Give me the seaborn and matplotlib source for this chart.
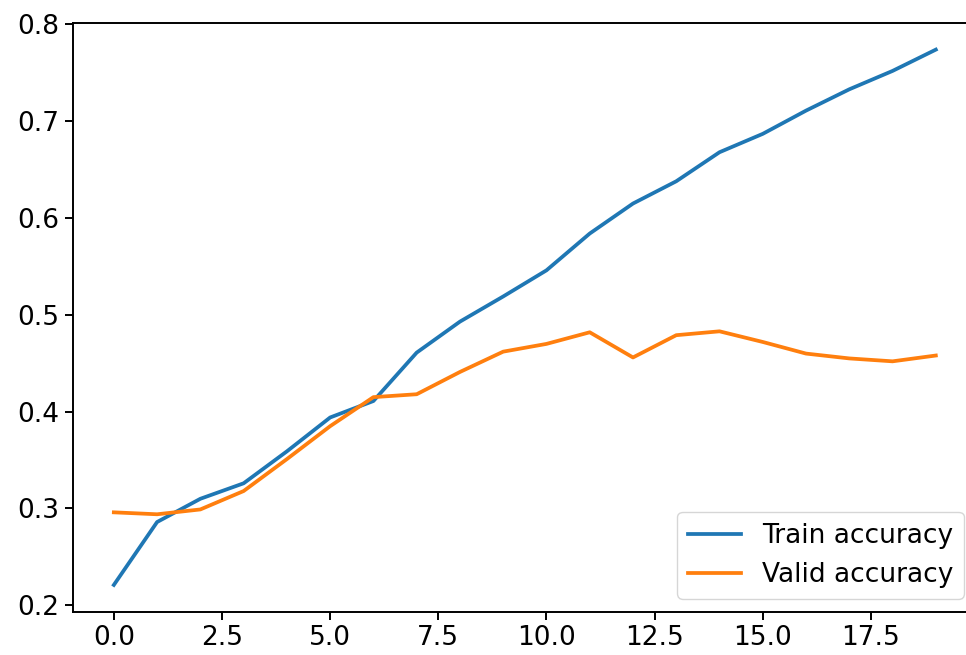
import numpy as np
import pandas as pd
import matplotlib
matplotlib.use("Agg")
import matplotlib.pyplot as plt
import seaborn as sns

# ================= DATA =================
epochs = list(range(20))
train_acc = [0.221, 0.286, 0.310, 0.326, 0.359, 0.394, 0.411, 0.461, 0.493, 0.519,
             0.546, 0.584, 0.615, 0.638, 0.668, 0.687, 0.711, 0.733, 0.752, 0.774]
valid_acc = [0.296, 0.294, 0.299, 0.318, 0.351, 0.385, 0.415, 0.418, 0.441, 0.462,
             0.470, 0.482, 0.456, 0.479, 0.483, 0.472, 0.460, 0.455, 0.452, 0.458]

df = pd.DataFrame({"epoch": epochs, "train": train_acc, "valid": valid_acc})

# ================= STYLE =================
plt.rcParams["font.family"] = ["DejaVu Sans"]
plt.rcParams["font.size"] = 19
plt.rcParams["axes.linewidth"] = 1.4
plt.rcParams["xtick.major.size"] = 6
plt.rcParams["ytick.major.size"] = 6
plt.rcParams["xtick.major.width"] = 1.4
plt.rcParams["ytick.major.width"] = 1.4

# ================= PLOT =================
fig = plt.figure(figsize=(9.66, 6.55), dpi=100)
ax = fig.add_axes([0.0753, 0.0661, 0.936, 0.899])

sns.lineplot(data=df, x="epoch", y="train", ax=ax, color="#1f77b4",
             linewidth=2.7, label="Train accuracy")
sns.lineplot(data=df, x="epoch", y="valid", ax=ax, color="#ff7f0e",
             linewidth=2.7, label="Valid accuracy")

ax.set_xlabel("")
ax.set_ylabel("")
ax.set_xticks([0, 2.5, 5, 7.5, 10, 12.5, 15, 17.5])
ax.set_xticklabels(["0.0", "2.5", "5.0", "7.5", "10.0", "12.5", "15.0", "17.5"])
ax.set_yticks([0.2, 0.3, 0.4, 0.5, 0.6, 0.7, 0.8])
ax.legend(loc="lower right")

fig.savefig("out.png", dpi=100)
